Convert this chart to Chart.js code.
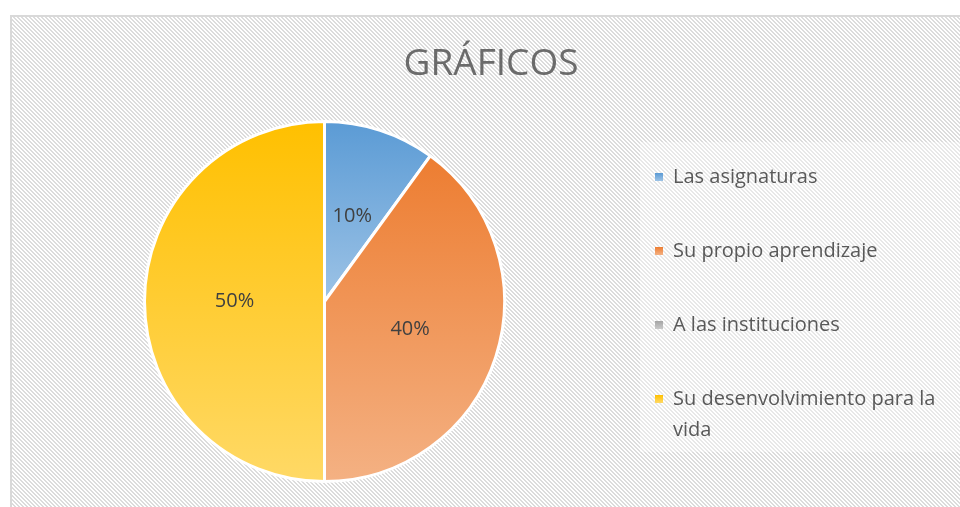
<!DOCTYPE html>
<html lang="es">
  <head>
    <meta charset="UTF-8" />
    <title>GRÁFICOS</title>
    <script src="https://cdn.jsdelivr.net/npm/chart.js"></script>
    <style>
      body {
        margin: 0;
        background-color: #ffffff;
      }
      .chart-container {
        position: relative;
        width: 960px;
        height: 507px;
      }
    </style>
  </head>
  <body>
    <div class="chart-container">
      <canvas id="myPieChart"></canvas>
    </div>
    <script>
      const chartTitle = "GRÁFICOS";
      const labels = [
        "Las asignaturas",
        "Su propio aprendizaje",
        "A las instituciones",
        "Su desenvolvimiento para la vida",
      ];
      const values = [10, 40, 0, 50];
      const topColors = ["#5b9bd5", "#ed7d31", "#a5a5a5", "#ffc000"];
      const bottomColors = ["#9dc3e6", "#f4b183", "#c9c9c9", "#ffd966"];

      const FONT = "'Open Sans', sans-serif";

      // vertical extent of one slice, so the gradient runs over the slice itself
      function sliceRange(chart, i) {
        const meta = chart.getDatasetMeta(0);
        const area = chart.chartArea;
        const r = meta.controller.outerRadius;
        const cy = (area.top + area.bottom) / 2;
        const total = values.reduce((a, b) => a + b, 0);
        let a0 = -Math.PI / 2;
        for (let k = 0; k < i; k++) a0 += (values[k] / total) * Math.PI * 2;
        const a1 = a0 + (values[i] / total) * Math.PI * 2;
        const ys = [cy, cy + r * Math.sin(a0), cy + r * Math.sin(a1)];
        for (const t of [-Math.PI / 2, Math.PI / 2, (3 * Math.PI) / 2]) {
          if (t >= a0 && t <= a1) ys.push(cy + r * Math.sin(t));
        }
        return [Math.min(...ys), Math.max(...ys)];
      }

      function sliceFill(ctx) {
        const chart = ctx.chart;
        const i = ctx.dataIndex;
        const meta = chart.getDatasetMeta(0);
        if (!chart.chartArea || !meta.controller || !meta.controller.outerRadius || !values[i]) {
          return topColors[i];
        }
        const [y0, y1] = sliceRange(chart, i);
        const g = chart.ctx.createLinearGradient(0, y0, 0, y1);
        g.addColorStop(0, topColors[i]);
        g.addColorStop(1, bottomColors[i]);
        return g;
      }

      const frame = {
        id: "frame",
        beforeDraw(chart) {
          const c = chart.ctx;
          c.save();
          c.fillStyle = "#ffffff";
          c.fillRect(0, 0, chart.width, chart.height);
          // diagonal hatch
          const p = document.createElement("canvas");
          p.width = 4;
          p.height = 4;
          const pc = p.getContext("2d");
          pc.fillStyle = "#ffffff";
          pc.fillRect(0, 0, 4, 4);
          pc.fillStyle = "#dcdcdc";
          for (let y = 0; y < 4; y++) {
            for (let x = 0; x < 4; x++) {
              const d = (((x - y) % 4) + 4) % 4;
              if (d === 0 || d === 1) pc.fillRect(x, y, 1, 1);
            }
          }
          c.fillStyle = c.createPattern(p, "repeat");
          c.fillRect(10, 15, chart.width - 10, chart.height - 15);
          c.fillStyle = "#d9d9d9";
          c.fillRect(10, 15, chart.width - 10, 2);
          c.fillRect(10, 15, 2, chart.height - 15);
          // lighter legend panel
          c.fillStyle = "rgba(255,255,255,0.35)";
          c.fillRect(640, 142, chart.width - 640, 310);
          // title
          c.fillStyle = "#6b6b6b";
          c.font = "37px " + FONT;
          c.textAlign = "center";
          c.textBaseline = "alphabetic";
          c.fillText(chartTitle, 491, 75);
          c.restore();
        },
      };

      const pctLabels = {
        id: "pctLabels",
        afterDatasetsDraw(chart) {
          const c = chart.ctx;
          const meta = chart.getDatasetMeta(0);
          const total = values.reduce((a, b) => a + b, 0);
          c.save();
          c.fillStyle = "#404040";
          c.font = "20px " + FONT;
          c.textAlign = "center";
          c.textBaseline = "middle";
          meta.data.forEach((arc, i) => {
            if (!values[i]) return;
            const pos = arc.tooltipPosition();
            c.fillText(Math.round((values[i] / total) * 100) + "%", pos.x, pos.y);
          });
          c.restore();
        },
      };

      const sideLegend = {
        id: "sideLegend",
        afterDraw(chart) {
          const c = chart.ctx;
          const x0 = 655;
          const tx = 673;
          const maxW = chart.width - tx - 4;
          c.save();
          c.font = "20px " + FONT;
          c.textBaseline = "middle";
          c.textAlign = "left";
          labels.forEach((lab, i) => {
            const y = 177 + i * 74;
            const g = c.createLinearGradient(0, y - 4, 0, y + 4);
            g.addColorStop(0, topColors[i]);
            g.addColorStop(1, bottomColors[i]);
            c.fillStyle = g;
            c.fillRect(x0, y - 4, 8, 8);
            c.fillStyle = "#595959";
            const words = lab.split(" ");
            let line = "";
            let ly = y;
            words.forEach((w) => {
              const test = line ? line + " " + w : w;
              if (c.measureText(test).width > maxW && line) {
                c.fillText(line, tx, ly);
                line = w;
                ly += 31;
              } else {
                line = test;
              }
            });
            c.fillText(line, tx, ly);
          });
          c.restore();
        },
      };

      new Chart(document.getElementById("myPieChart"), {
        type: "pie",
        data: {
          labels: labels,
          datasets: [
            {
              data: values,
              backgroundColor: sliceFill,
              borderColor: "#ffffff",
              borderWidth: 3,
            },
          ],
        },
        options: {
          responsive: true,
          maintainAspectRatio: false,
          animation: false,
          layout: {
            padding: { left: 143, right: 454, top: 120, bottom: 24 },
          },
          plugins: {
            legend: { display: false },
            title: { display: false },
            tooltip: { enabled: false },
          },
        },
        plugins: [frame, pctLabels, sideLegend],
      });
    </script>
  </body>
</html>
